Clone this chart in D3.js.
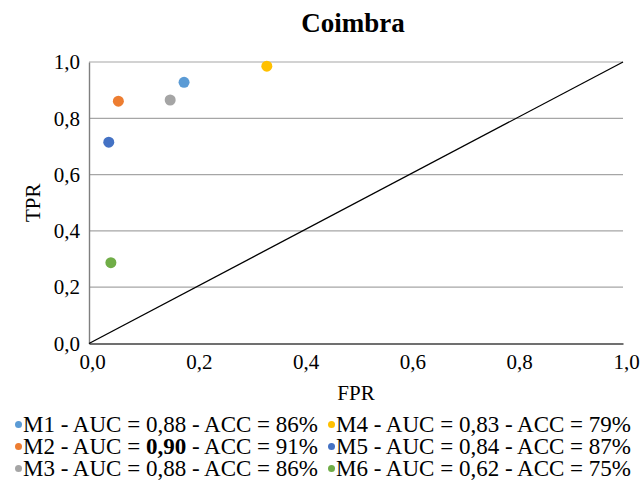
<!DOCTYPE html>
<html>
<head>
<meta charset="utf-8">
<script src="https://cdn.jsdelivr.net/npm/d3@7"></script>
<style>
  html, body { margin: 0; padding: 0; background: #fff; }
  svg, svg text { font-family: "Liberation Serif", "Times New Roman", serif !important; }
</style>
</head>
<body>
<svg id="chart" width="643" height="488"></svg>
<script>
// ---- data ----
const models = ["M1", "M2", "M3", "M4", "M5", "M6"];
const fpr = [0.178, 0.055, 0.152, 0.333, 0.037, 0.041];
const tpr = [0.928, 0.861, 0.865, 0.985, 0.715, 0.287];
const auc = [0.88, 0.90, 0.88, 0.83, 0.84, 0.62];
const acc = [86, 91, 86, 79, 87, 75];
const tickValues = [0, 0.2, 0.4, 0.6, 0.8, 1.0];
const title = "Coimbra";
const xTitle = "FPR";
const yTitle = "TPR";

// ---- styles ----
const palette = ["#5B9BD5", "#ED7D31", "#A5A5A5", "#FFC000", "#4472C4", "#70AD47"];
const serif = "'Liberation Serif', 'Times New Roman', serif";

const svg = d3.select("#chart");
const margin = { left: 89, right: 20, top: 62, bottom: 144.5 };
const W = 643, H = 488;
const x = d3.scaleLinear().domain([0, 1]).range([margin.left, W - margin.right]);
const y = d3.scaleLinear().domain([0, 1]).range([H - margin.bottom, margin.top]);
const fmt = v => d3.format(".1f")(v).replace(".", ",");
const fmt2 = v => d3.format(".2f")(v).replace(".", ",");

// title
svg.append("text")
  .attr("x", (x(0) + x(1)) / 2 - 3)
  .attr("y", 32)
  .attr("text-anchor", "middle")
  .style("font-size", "27px")
  .style("font-weight", "bold")
  .style("font-family", serif)
  .text(title);

// gridlines
svg.append("g")
  .selectAll("line")
  .data(tickValues.filter(d => d > 0))
  .join("line")
  .attr("x1", x(0)).attr("x2", x(1))
  .attr("y1", d => y(d)).attr("y2", d => y(d))
  .attr("stroke", "#a6a6a6")
  .attr("stroke-width", 1.2);

// y axis
const yAxis = svg.append("g")
  .attr("transform", `translate(${x(0)},0)`)
  .call(d3.axisLeft(y).tickValues(tickValues).tickSize(0).tickPadding(9).tickFormat(fmt));
yAxis.attr("font-family", null);
yAxis.select(".domain").attr("stroke", "#7f7f7f").attr("stroke-width", 1.4);
yAxis.selectAll("text").style("font-size", "21px").style("font-family", serif).attr("fill", "#000");

// x axis
const xAxis = svg.append("g")
  .attr("transform", `translate(0,${y(0)})`)
  .call(d3.axisBottom(x).tickValues(tickValues).tickSize(0).tickPadding(11).tickFormat(fmt));
xAxis.attr("font-family", null);
xAxis.select(".domain").attr("stroke", "#404040").attr("stroke-width", 1.6);
xAxis.selectAll("text").style("font-size", "21px").style("font-family", serif).attr("fill", "#000")
  .attr("dx", 3);

// diagonal
svg.append("line")
  .attr("x1", x(0)).attr("y1", y(0))
  .attr("x2", x(1)).attr("y2", y(1))
  .attr("stroke", "#000")
  .attr("stroke-width", 1.3);

// axis titles
svg.append("text")
  .attr("x", (x(0) + x(1)) / 2)
  .attr("y", 400)
  .attr("text-anchor", "middle")
  .style("font-size", "21px")
  .style("font-family", serif)
  .text(xTitle);
svg.append("text")
  .attr("transform", `translate(40,${(y(0) + y(1)) / 2}) rotate(-90)`)
  .attr("text-anchor", "middle")
  .style("font-size", "21px")
  .style("font-family", serif)
  .text(yTitle);

// points
svg.append("g")
  .selectAll("circle")
  .data(models.map((m, i) => ({ m, fx: fpr[i], ty: tpr[i], c: palette[i] })))
  .join("circle")
  .attr("cx", d => x(d.fx))
  .attr("cy", d => y(d.ty))
  .attr("r", 5.5)
  .attr("fill", d => d.c);

// legend
const bestAuc = d3.max(auc);
const legX = [18.5, 331.5];
const legY = [432, 454, 476];
const leg = svg.append("g");
models.forEach((m, i) => {
  const col = Math.floor(i / 3), row = i % 3;
  const g = leg.append("g").attr("transform", `translate(${legX[col]},${legY[row]})`);
  g.append("circle").attr("cx", 0).attr("cy", -7.5).attr("r", 3.5).attr("fill", palette[i]);
  const t = g.append("text").attr("x", 4.5).attr("y", 0)
    .style("font-size", "23px").style("font-family", serif);
  t.append("tspan").text(`${m} - AUC = `);
  t.append("tspan").style("font-weight", auc[i] === bestAuc ? "bold" : "normal").text(fmt2(auc[i]));
  t.append("tspan").text(` - ACC = ${acc[i]}%`);
});
</script>
</body>
</html>
